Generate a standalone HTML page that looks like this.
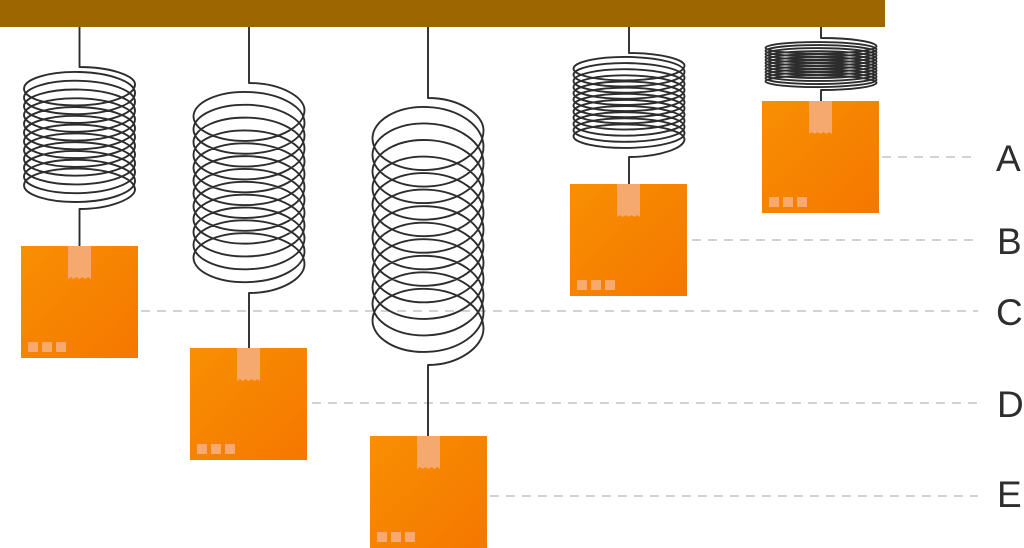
<!DOCTYPE html>
<html>
<head>
<meta charset="utf-8">
<style>
html,body{margin:0;padding:0;background:#fff;}
svg{display:block;}
</style>
</head>
<body>
<svg width="1024" height="548" viewBox="0 0 1024 548" xmlns="http://www.w3.org/2000/svg">
<defs>
<linearGradient id="box" x1="0" y1="0" x2="1" y2="1">
<stop offset="0" stop-color="#F88F02"/>
<stop offset="1" stop-color="#F57700"/>
</linearGradient>
<g id="crate">
<rect x="0" y="0" width="117" height="112" fill="url(#box)"/>
<polygon points="47,0 70,0 70,33 67.1,31 64.25,33 61.4,31 58.5,33 55.6,31 52.75,33 49.9,31 47,33" fill="#F6A96F"/>
<rect x="7" y="96" width="10" height="10" fill="#F7A96E"/>
<rect x="21" y="96" width="10" height="10" fill="#F7A96E"/>
<rect x="35" y="96" width="10" height="10" fill="#F7A96E"/>
</g>
</defs>

<!-- dashed guide lines -->
<g stroke="#C4C4C4" stroke-width="1.5" stroke-dasharray="9 7" fill="none">
<line x1="882" y1="157" x2="978" y2="157"/>
<line x1="692" y1="240" x2="978" y2="240"/>
<line x1="141" y1="311" x2="978" y2="311"/>
<line x1="312" y1="403" x2="978" y2="403"/>
<line x1="490" y1="496" x2="978" y2="496"/>
</g>

<!-- ceiling bar -->
<rect x="0" y="0" width="885" height="27" fill="#9E6600"/>

<!-- springs -->
<g stroke="#2D2D2D" stroke-width="1.9" fill="none" stroke-linejoin="round">
<!-- C spring -->
<path d="M79.5,27 V67 C110,67 135,75.5 135,84.3
c0,11.20 -24.85,20.30 -55.5,21.07 c-30.65,0.77 -55.5,-7.03 -55.5,-16.68 c0,-9.65 24.85,-17.45 55.5,-16.68 c30.65,0.77 55.5,9.87 55.5,21.07
c0,11.20 -24.85,20.30 -55.5,21.07 c-30.65,0.77 -55.5,-7.03 -55.5,-16.68 c0,-9.65 24.85,-17.45 55.5,-16.68 c30.65,0.77 55.5,9.87 55.5,21.07
c0,11.20 -24.85,20.30 -55.5,21.07 c-30.65,0.77 -55.5,-7.03 -55.5,-16.68 c0,-9.65 24.85,-17.45 55.5,-16.68 c30.65,0.77 55.5,9.87 55.5,21.07
c0,11.20 -24.85,20.30 -55.5,21.07 c-30.65,0.77 -55.5,-7.03 -55.5,-16.68 c0,-9.65 24.85,-17.45 55.5,-16.68 c30.65,0.77 55.5,9.87 55.5,21.07
c0,11.20 -24.85,20.30 -55.5,21.07 c-30.65,0.77 -55.5,-7.03 -55.5,-16.68 c0,-9.65 24.85,-17.45 55.5,-16.68 c30.65,0.77 55.5,9.87 55.5,21.07
c0,11.20 -24.85,20.30 -55.5,21.07 c-30.65,0.77 -55.5,-7.03 -55.5,-16.68 c0,-9.65 24.85,-17.45 55.5,-16.68 c30.65,0.77 55.5,9.87 55.5,21.07
c0,11.20 -24.85,20.30 -55.5,21.07 c-30.65,0.77 -55.5,-7.03 -55.5,-16.68 c0,-9.65 24.85,-17.45 55.5,-16.68 c30.65,0.77 55.5,9.87 55.5,21.07
c0,11.20 -24.85,20.30 -55.5,21.07 c-30.65,0.77 -55.5,-7.03 -55.5,-16.68 c0,-9.65 24.85,-17.45 55.5,-16.68 c30.65,0.77 55.5,9.87 55.5,21.07
c0,11.20 -24.85,20.30 -55.5,21.07 c-30.65,0.77 -55.5,-7.03 -55.5,-16.68 c0,-9.65 24.85,-17.45 55.5,-16.68 c30.65,0.77 55.5,9.87 55.5,21.07
c0,11.20 -24.85,20.30 -55.5,21.07 c-30.65,0.77 -55.5,-7.03 -55.5,-16.68 c0,-9.65 24.85,-17.45 55.5,-16.68 c30.65,0.77 55.5,9.87 55.5,21.07
c0,11.20 -24.85,20.30 -55.5,21.07 c-30.65,0.77 -55.5,-7.03 -55.5,-16.68 c0,-9.65 24.85,-17.45 55.5,-16.68 c30.65,0.77 55.5,9.87 55.5,21.07
c0,11.20 -24.85,20.30 -55.5,21.07 c-30.65,0.77 -55.5,-7.03 -55.5,-16.68 c0,-9.65 24.85,-17.45 55.5,-16.68 c30.65,0.77 55.5,9.87 55.5,21.07
C135,198.4 110,209 79.5,209 V246"/>

<!-- D spring -->
<path d="M249,27 V83 C279.5,83 304.5,96.5 304.5,110
c0,16.37 -24.85,29.69 -55.5,30.82 c-30.65,1.13 -55.5,-10.28 -55.5,-24.40 c0,-14.12 24.85,-25.52 55.5,-24.40 c30.65,1.13 55.5,14.44 55.5,30.82
c0,16.37 -24.85,29.69 -55.5,30.82 c-30.65,1.13 -55.5,-10.28 -55.5,-24.40 c0,-14.12 24.85,-25.52 55.5,-24.40 c30.65,1.13 55.5,14.44 55.5,30.82
c0,16.37 -24.85,29.69 -55.5,30.82 c-30.65,1.13 -55.5,-10.28 -55.5,-24.40 c0,-14.12 24.85,-25.52 55.5,-24.40 c30.65,1.13 55.5,14.44 55.5,30.82
c0,16.37 -24.85,29.69 -55.5,30.82 c-30.65,1.13 -55.5,-10.28 -55.5,-24.40 c0,-14.12 24.85,-25.52 55.5,-24.40 c30.65,1.13 55.5,14.44 55.5,30.82
c0,16.37 -24.85,29.69 -55.5,30.82 c-30.65,1.13 -55.5,-10.28 -55.5,-24.40 c0,-14.12 24.85,-25.52 55.5,-24.40 c30.65,1.13 55.5,14.44 55.5,30.82
c0,16.37 -24.85,29.69 -55.5,30.82 c-30.65,1.13 -55.5,-10.28 -55.5,-24.40 c0,-14.12 24.85,-25.52 55.5,-24.40 c30.65,1.13 55.5,14.44 55.5,30.82
c0,16.37 -24.85,29.69 -55.5,30.82 c-30.65,1.13 -55.5,-10.28 -55.5,-24.40 c0,-14.12 24.85,-25.52 55.5,-24.40 c30.65,1.13 55.5,14.44 55.5,30.82
c0,16.37 -24.85,29.69 -55.5,30.82 c-30.65,1.13 -55.5,-10.28 -55.5,-24.40 c0,-14.12 24.85,-25.52 55.5,-24.40 c30.65,1.13 55.5,14.44 55.5,30.82
c0,16.37 -24.85,29.69 -55.5,30.82 c-30.65,1.13 -55.5,-10.28 -55.5,-24.40 c0,-14.12 24.85,-25.52 55.5,-24.40 c30.65,1.13 55.5,14.44 55.5,30.82
c0,16.37 -24.85,29.69 -55.5,30.82 c-30.65,1.13 -55.5,-10.28 -55.5,-24.40 c0,-14.12 24.85,-25.52 55.5,-24.40 c30.65,1.13 55.5,14.44 55.5,30.82
c0,16.37 -24.85,29.69 -55.5,30.82 c-30.65,1.13 -55.5,-10.28 -55.5,-24.40 c0,-14.12 24.85,-25.52 55.5,-24.40 c30.65,1.13 55.5,14.44 55.5,30.82
c0,16.37 -24.85,29.69 -55.5,30.82 c-30.65,1.13 -55.5,-10.28 -55.5,-24.40 c0,-14.12 24.85,-25.52 55.5,-24.40 c30.65,1.13 55.5,14.44 55.5,30.82
C304.5,279 279.5,293 249,293 V348"/>

<!-- E spring -->
<path d="M428,27 V98 C458.5,98 483.5,114 483.5,130.2
c0,21.11 -24.85,38.27 -55.5,39.72 c-30.65,1.45 -55.5,-13.25 -55.5,-31.45 c0,-18.20 24.85,-32.90 55.5,-31.45 c30.65,1.45 55.5,18.61 55.5,39.72
c0,21.11 -24.85,38.27 -55.5,39.72 c-30.65,1.45 -55.5,-13.25 -55.5,-31.45 c0,-18.20 24.85,-32.90 55.5,-31.45 c30.65,1.45 55.5,18.61 55.5,39.72
c0,21.11 -24.85,38.27 -55.5,39.72 c-30.65,1.45 -55.5,-13.25 -55.5,-31.45 c0,-18.20 24.85,-32.90 55.5,-31.45 c30.65,1.45 55.5,18.61 55.5,39.72
c0,21.11 -24.85,38.27 -55.5,39.72 c-30.65,1.45 -55.5,-13.25 -55.5,-31.45 c0,-18.20 24.85,-32.90 55.5,-31.45 c30.65,1.45 55.5,18.61 55.5,39.72
c0,21.11 -24.85,38.27 -55.5,39.72 c-30.65,1.45 -55.5,-13.25 -55.5,-31.45 c0,-18.20 24.85,-32.90 55.5,-31.45 c30.65,1.45 55.5,18.61 55.5,39.72
c0,21.11 -24.85,38.27 -55.5,39.72 c-30.65,1.45 -55.5,-13.25 -55.5,-31.45 c0,-18.20 24.85,-32.90 55.5,-31.45 c30.65,1.45 55.5,18.61 55.5,39.72
c0,21.11 -24.85,38.27 -55.5,39.72 c-30.65,1.45 -55.5,-13.25 -55.5,-31.45 c0,-18.20 24.85,-32.90 55.5,-31.45 c30.65,1.45 55.5,18.61 55.5,39.72
c0,21.11 -24.85,38.27 -55.5,39.72 c-30.65,1.45 -55.5,-13.25 -55.5,-31.45 c0,-18.20 24.85,-32.90 55.5,-31.45 c30.65,1.45 55.5,18.61 55.5,39.72
c0,21.11 -24.85,38.27 -55.5,39.72 c-30.65,1.45 -55.5,-13.25 -55.5,-31.45 c0,-18.20 24.85,-32.90 55.5,-31.45 c30.65,1.45 55.5,18.61 55.5,39.72
c0,21.11 -24.85,38.27 -55.5,39.72 c-30.65,1.45 -55.5,-13.25 -55.5,-31.45 c0,-18.20 24.85,-32.90 55.5,-31.45 c30.65,1.45 55.5,18.61 55.5,39.72
c0,21.11 -24.85,38.27 -55.5,39.72 c-30.65,1.45 -55.5,-13.25 -55.5,-31.45 c0,-18.20 24.85,-32.90 55.5,-31.45 c30.65,1.45 55.5,18.61 55.5,39.72
c0,21.11 -24.85,38.27 -55.5,39.72 c-30.65,1.45 -55.5,-13.25 -55.5,-31.45 c0,-18.20 24.85,-32.90 55.5,-31.45 c30.65,1.45 55.5,18.61 55.5,39.72
C483.5,347 458.5,365 428,365 V436"/>

<!-- B spring -->
<path d="M629,27 V53 C659.5,53 684.5,59.3 684.5,65.6
c0,7.84 -24.85,14.22 -55.5,14.76 c-30.65,0.54 -55.5,-4.92 -55.5,-11.69 c0,-6.76 24.85,-12.23 55.5,-11.69 c30.65,0.54 55.5,6.92 55.5,14.76
c0,7.84 -24.85,14.22 -55.5,14.76 c-30.65,0.54 -55.5,-4.92 -55.5,-11.69 c0,-6.76 24.85,-12.23 55.5,-11.69 c30.65,0.54 55.5,6.92 55.5,14.76
c0,7.84 -24.85,14.22 -55.5,14.76 c-30.65,0.54 -55.5,-4.92 -55.5,-11.69 c0,-6.76 24.85,-12.23 55.5,-11.69 c30.65,0.54 55.5,6.92 55.5,14.76
c0,7.84 -24.85,14.22 -55.5,14.76 c-30.65,0.54 -55.5,-4.92 -55.5,-11.69 c0,-6.76 24.85,-12.23 55.5,-11.69 c30.65,0.54 55.5,6.92 55.5,14.76
c0,7.84 -24.85,14.22 -55.5,14.76 c-30.65,0.54 -55.5,-4.92 -55.5,-11.69 c0,-6.76 24.85,-12.23 55.5,-11.69 c30.65,0.54 55.5,6.92 55.5,14.76
c0,7.84 -24.85,14.22 -55.5,14.76 c-30.65,0.54 -55.5,-4.92 -55.5,-11.69 c0,-6.76 24.85,-12.23 55.5,-11.69 c30.65,0.54 55.5,6.92 55.5,14.76
c0,7.84 -24.85,14.22 -55.5,14.76 c-30.65,0.54 -55.5,-4.92 -55.5,-11.69 c0,-6.76 24.85,-12.23 55.5,-11.69 c30.65,0.54 55.5,6.92 55.5,14.76
c0,7.84 -24.85,14.22 -55.5,14.76 c-30.65,0.54 -55.5,-4.92 -55.5,-11.69 c0,-6.76 24.85,-12.23 55.5,-11.69 c30.65,0.54 55.5,6.92 55.5,14.76
c0,7.84 -24.85,14.22 -55.5,14.76 c-30.65,0.54 -55.5,-4.92 -55.5,-11.69 c0,-6.76 24.85,-12.23 55.5,-11.69 c30.65,0.54 55.5,6.92 55.5,14.76
c0,7.84 -24.85,14.22 -55.5,14.76 c-30.65,0.54 -55.5,-4.92 -55.5,-11.69 c0,-6.76 24.85,-12.23 55.5,-11.69 c30.65,0.54 55.5,6.92 55.5,14.76
c0,7.84 -24.85,14.22 -55.5,14.76 c-30.65,0.54 -55.5,-4.92 -55.5,-11.69 c0,-6.76 24.85,-12.23 55.5,-11.69 c30.65,0.54 55.5,6.92 55.5,14.76
c0,7.84 -24.85,14.22 -55.5,14.76 c-30.65,0.54 -55.5,-4.92 -55.5,-11.69 c0,-6.76 24.85,-12.23 55.5,-11.69 c30.65,0.54 55.5,6.92 55.5,14.76
C684.5,148 659.5,157 629,157 V184"/>

<!-- A spring -->
<path d="M821,27 V38 C851.5,38 876.5,42 876.5,46.3
c0,3.88 -24.85,7.03 -55.5,7.30 c-30.65,0.27 -55.5,-2.43 -55.5,-5.78 c0,-3.34 24.85,-6.04 55.5,-5.78 c30.65,0.27 55.5,3.42 55.5,7.30
c0,3.88 -24.85,7.03 -55.5,7.30 c-30.65,0.27 -55.5,-2.43 -55.5,-5.78 c0,-3.34 24.85,-6.04 55.5,-5.78 c30.65,0.27 55.5,3.42 55.5,7.30
c0,3.88 -24.85,7.03 -55.5,7.30 c-30.65,0.27 -55.5,-2.43 -55.5,-5.78 c0,-3.34 24.85,-6.04 55.5,-5.78 c30.65,0.27 55.5,3.42 55.5,7.30
c0,3.88 -24.85,7.03 -55.5,7.30 c-30.65,0.27 -55.5,-2.43 -55.5,-5.78 c0,-3.34 24.85,-6.04 55.5,-5.78 c30.65,0.27 55.5,3.42 55.5,7.30
c0,3.88 -24.85,7.03 -55.5,7.30 c-30.65,0.27 -55.5,-2.43 -55.5,-5.78 c0,-3.34 24.85,-6.04 55.5,-5.78 c30.65,0.27 55.5,3.42 55.5,7.30
c0,3.88 -24.85,7.03 -55.5,7.30 c-30.65,0.27 -55.5,-2.43 -55.5,-5.78 c0,-3.34 24.85,-6.04 55.5,-5.78 c30.65,0.27 55.5,3.42 55.5,7.30
c0,3.88 -24.85,7.03 -55.5,7.30 c-30.65,0.27 -55.5,-2.43 -55.5,-5.78 c0,-3.34 24.85,-6.04 55.5,-5.78 c30.65,0.27 55.5,3.42 55.5,7.30
c0,3.88 -24.85,7.03 -55.5,7.30 c-30.65,0.27 -55.5,-2.43 -55.5,-5.78 c0,-3.34 24.85,-6.04 55.5,-5.78 c30.65,0.27 55.5,3.42 55.5,7.30
c0,3.88 -24.85,7.03 -55.5,7.30 c-30.65,0.27 -55.5,-2.43 -55.5,-5.78 c0,-3.34 24.85,-6.04 55.5,-5.78 c30.65,0.27 55.5,3.42 55.5,7.30
c0,3.88 -24.85,7.03 -55.5,7.30 c-30.65,0.27 -55.5,-2.43 -55.5,-5.78 c0,-3.34 24.85,-6.04 55.5,-5.78 c30.65,0.27 55.5,3.42 55.5,7.30
c0,3.88 -24.85,7.03 -55.5,7.30 c-30.65,0.27 -55.5,-2.43 -55.5,-5.78 c0,-3.34 24.85,-6.04 55.5,-5.78 c30.65,0.27 55.5,3.42 55.5,7.30
c0,3.88 -24.85,7.03 -55.5,7.30 c-30.65,0.27 -55.5,-2.43 -55.5,-5.78 c0,-3.34 24.85,-6.04 55.5,-5.78 c30.65,0.27 55.5,3.42 55.5,7.30
C876.5,86.5 851.5,90 821,90 V101"/>
</g>

<!-- boxes -->
<use href="#crate" x="21" y="246"/>
<use href="#crate" x="190" y="348"/>
<use href="#crate" x="370" y="436"/>
<use href="#crate" x="570" y="184"/>
<use href="#crate" x="762" y="101"/>

<!-- labels -->
<g font-family="'Liberation Sans', Arial, sans-serif" font-size="37" fill="#2E2E2E">
<text x="996" y="171">A</text>
<text x="997" y="254">B</text>
<text x="996" y="325">C</text>
<text x="997" y="417">D</text>
<text x="997" y="507">E</text>
</g>
</svg>
</body>
</html>
